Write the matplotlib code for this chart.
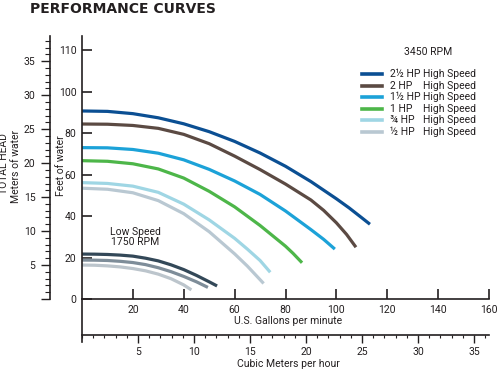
import numpy as np
import matplotlib
matplotlib.use('Agg')
import matplotlib.pyplot as plt
from matplotlib.lines import Line2D
from matplotlib.ticker import MultipleLocator, FixedLocator

plt.rcParams['font.family'] = ['Roboto', 'DejaVu Sans']

## high speed curves (3450 RPM): flow in gpm, head in feet
hp_labels = ['2½ HP', '2 HP', '1½ HP', '1 HP', '¾ HP', '½ HP']
hp_colors = ['#0b4f93', '#5b4a43', '#1ca2d8', '#4db649', '#9fd6e4', '#b9c8d2']

gpm_25 = [0, 10, 20, 30, 40, 50, 60, 70, 80, 90, 100, 105, 110, 113.2]
ft_25 = [90.8, 90.6, 89.5, 87.5, 84.6, 80.8, 76.1, 70.5, 64.1, 56.7, 48.4, 44.0, 39.2, 36.1]

gpm_2 = [0, 10, 20, 30, 40, 50, 60, 70, 80, 90, 95, 100, 104, 107.7]
ft_2 = [84.5, 84.4, 83.8, 82.4, 79.5, 75.0, 69.0, 62.5, 55.5, 47.8, 42.8, 36.8, 31.2, 25.0]

gpm_15 = [0, 10, 20, 30, 40, 50, 60, 70, 80, 90, 95, 99.4]
ft_15 = [73.1, 73.0, 72.2, 70.4, 67.2, 62.6, 57.0, 50.5, 42.5, 33.5, 28.8, 24.1]

gpm_1 = [0, 10, 20, 30, 40, 50, 60, 70, 80, 83, 86.5]
ft_1 = [66.8, 66.5, 65.3, 62.8, 58.4, 52.0, 44.5, 35.5, 25.5, 22.0, 17.5]

gpm_075 = [0, 10, 20, 30, 40, 50, 60, 65, 70, 74]
ft_075 = [56.2, 55.8, 54.5, 51.5, 45.8, 38.2, 29.3, 24.1, 18.6, 12.9]

gpm_05 = [0, 10, 20, 30, 40, 50, 60, 65, 71.4]
ft_05 = [53.5, 53.0, 51.3, 47.5, 41.2, 32.5, 21.8, 15.9, 7.5]

high_gpm = [gpm_25, gpm_2, gpm_15, gpm_1, gpm_075, gpm_05]
high_ft = [ft_25, ft_2, ft_15, ft_1, ft_075, ft_05]

## low speed curves (1750 RPM)
low_colors = ['#334858', '#7e8d99', '#bcc5cc']
low_gpm = [[0, 5, 10, 15, 20, 25, 30, 35, 40, 45, 50, 53.1],
           [0, 5, 10, 15, 20, 25, 30, 35, 40, 45, 49.5],
           [0, 5, 10, 15, 20, 25, 30, 35, 40, 43]]
low_ft = [[21.7, 21.65, 21.5, 21.2, 20.7, 19.7, 18.4, 16.5, 14.2, 11.4, 8.3, 6.3],
          [18.8, 18.75, 18.6, 18.2, 17.6, 16.6, 15.1, 13.2, 10.9, 8.3, 5.6],
          [16.4, 16.3, 16.0, 15.5, 14.7, 13.6, 12.0, 9.8, 6.8, 4.4]]

gpm_ticks = [20, 40, 60, 80, 100, 120, 140, 160]
ft_ticks = [0, 20, 40, 60, 80, 100, 120]
ft_ticklabels = ['0', '20', '40', '60', '80', '100', '110']
m_ticks = [5, 10, 15, 20, 25, 30, 35]

FT_PER_M = 3.2808
GPM_PER_M3H = 4.4029
W, H = 499, 370
YMAX = 127
XMAX = 160
kc = '#231f20'
fs = 7.5

def fx(px):
    return px / W

def fy(py):
    return 1 - py / H

fig = plt.figure(figsize=(W / 100, H / 100), dpi=100)

## main axes (feet / gpm)
ax = fig.add_axes([fx(82), fy(299), fx(489) - fx(82), fy(36) - fy(299)])
for gx, gy, c in zip(high_gpm, high_ft, hp_colors):
    ax.plot(gx, gy, color=c, lw=2.3, solid_capstyle='butt', solid_joinstyle='round')
for gx, gy, c in zip(low_gpm, low_ft, low_colors):
    ax.plot(gx, gy, color=c, lw=2.3, solid_capstyle='butt', solid_joinstyle='round')
ax.set_xlim(0, XMAX)
ax.set_ylim(0, YMAX)
for s in ['top', 'right']:
    ax.spines[s].set_visible(False)
for s in ['left', 'bottom']:
    ax.spines[s].set_color(kc)
    ax.spines[s].set_linewidth(1.2)
ax.set_xticks(gpm_ticks)
ax.set_yticks(ft_ticks)
ax.set_yticklabels(ft_ticklabels)
ax.tick_params(axis='both', direction='in', length=7, width=1.2, color=kc,
               labelsize=fs, labelcolor=kc)
ax.tick_params(axis='y', pad=4)
ax.tick_params(axis='x', pad=4)
ax.patch.set_alpha(0)

## left meters axis
axm = fig.add_axes([fx(50), fy(299), 0.001, fy(36) - fy(299)])
axm.set_ylim(0, YMAX / FT_PER_M)
for s in ['top', 'right', 'bottom']:
    axm.spines[s].set_visible(False)
axm.spines['left'].set_color(kc)
axm.spines['left'].set_linewidth(1.2)
axm.set_xticks([])
axm.yaxis.set_major_locator(FixedLocator([0] + m_ticks))
axm.set_yticklabels([''] + [str(v) for v in m_ticks])
axm.yaxis.set_minor_locator(MultipleLocator(1))
axm.tick_params(axis='y', which='major', direction='out', length=6.5, width=1,
                color=kc, labelsize=fs, labelcolor=kc, pad=4)
axm.tick_params(axis='y', which='minor', direction='out', length=3.5, width=0.8, color=kc)
axm.patch.set_alpha(0)

## bottom cubic meters axis
axb = fig.add_axes([fx(82), fy(335), fx(489) - fx(82), 0.002])
axb.set_xlim(0, XMAX / GPM_PER_M3H)
for s in ['top', 'right', 'left']:
    axb.spines[s].set_visible(False)
axb.spines['bottom'].set_color(kc)
axb.spines['bottom'].set_linewidth(1.2)
axb.set_yticks([])
axb.set_xticks(m_ticks)
axb.xaxis.set_minor_locator(MultipleLocator(1))
axb.tick_params(axis='x', which='major', direction='out', length=5.5, width=1,
                color=kc, labelsize=fs, labelcolor=kc, pad=3)
axb.tick_params(axis='x', which='minor', direction='out', length=2.5, width=0.8, color=kc)
axb.patch.set_alpha(0)

## extend main y spine down to the second x axis
fig.add_artist(Line2D([fx(82), fx(82)], [fy(299), fy(342)], color=kc, lw=1.2,
                      transform=fig.transFigure))

## texts
fig.text(fx(30), fy(13), 'PERFORMANCE CURVES', fontsize=10, fontweight='bold',
         family='DejaVu Sans', color=kc, ha='left', va='baseline')
fig.text(fx(288), fy(321), 'U.S. Gallons per minute', fontsize=fs, color=kc,
         ha='center', va='center')
fig.text(fx(288), fy(364), 'Cubic Meters per hour', fontsize=fs, color=kc,
         ha='center', va='center')
fig.text(fx(4.5), fy(164), 'TOTAL HEAD', fontsize=fs, color=kc, rotation=90,
         ha='center', va='center')
fig.text(fx(16.5), fy(166), 'Meters of water', fontsize=fs, color=kc, rotation=90,
         ha='center', va='center')
fig.text(fx(61), fy(166), 'Feet of water', fontsize=fs, color=kc, rotation=90,
         ha='center', va='center')
fig.text(fx(135), fy(237), 'Low Speed\n1750 RPM', fontsize=fs, color=kc,
         ha='center', va='center', linespacing=1.1)

## legend
fig.text(fx(428), fy(52), '3450 RPM', fontsize=fs, color=kc, ha='center', va='center')
for i, (lab, c) in enumerate(zip(hp_labels, hp_colors)):
    yy = fy(74.3 + i * 11.45)
    fig.add_artist(Line2D([fx(362), fx(382)], [yy, yy], color=c, lw=2.6,
                          transform=fig.transFigure))
    fig.text(fx(390), yy, lab, fontsize=fs, color=kc, ha='left', va='center')
    fig.text(fx(423), yy, 'High Speed', fontsize=fs, color=kc, ha='left', va='center')

fig.savefig('out.png', dpi=100)
